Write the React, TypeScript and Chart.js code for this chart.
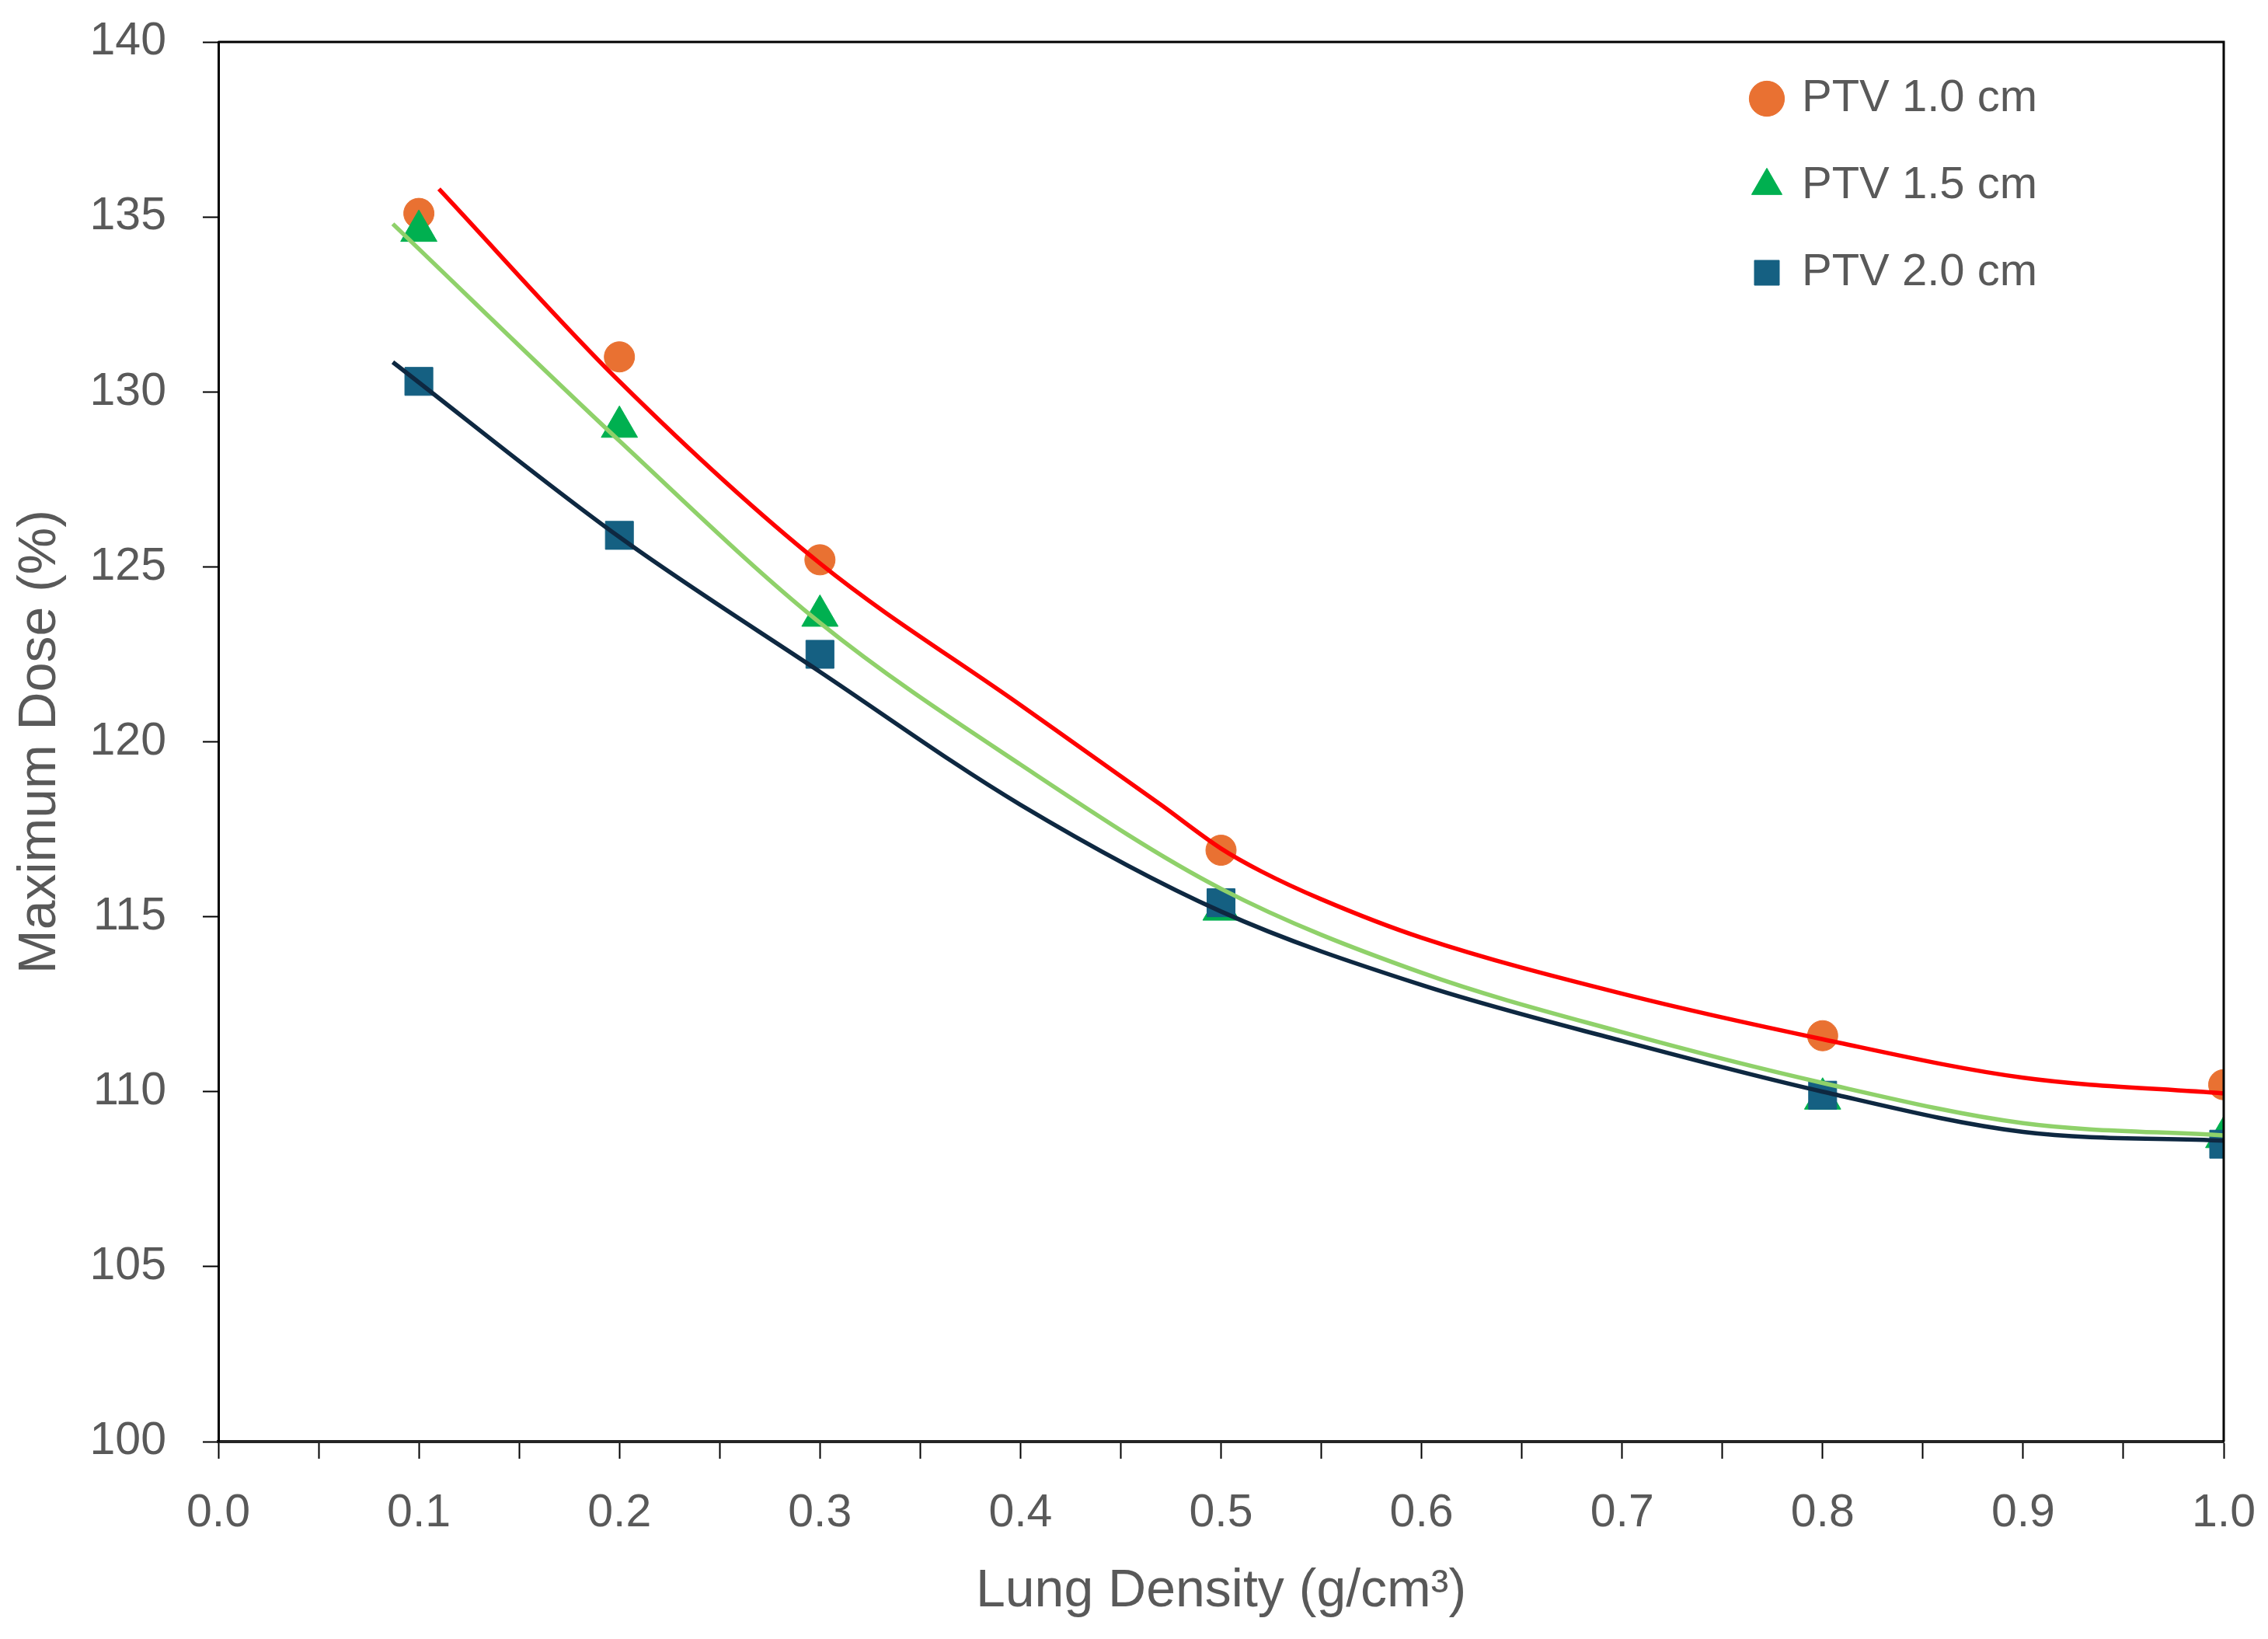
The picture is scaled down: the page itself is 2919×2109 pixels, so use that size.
import { useEffect, useRef } from "react"
import { Chart, registerables } from "chart.js"

Chart.register(...registerables)

// measured points (lung density, max dose %)
const densities = [0.1, 0.2, 0.3, 0.5, 0.8, 1.0]
const ptv10 = [135.1, 131.0, 125.2, 116.9, 111.6, 110.2]
const ptv15 = [134.6, 129.0, 123.6, 115.2, 109.8, 108.7]
const ptv20 = [130.3, 125.9, 122.5, 115.4, 109.9, 108.5]

// trend curves
const trend10X = [0.11, 0.2, 0.3, 0.4, 0.47, 0.5, 0.52, 0.55, 0.6, 0.7, 0.8, 0.9, 1.0]
const trend10Y = [135.8, 130.3, 125.1, 121.05, 118.2, 116.95, 116.3, 115.5, 114.4, 112.8, 111.5, 110.4, 109.95]
const trend15X = [0.087, 0.2, 0.3, 0.4, 0.5, 0.6, 0.7, 0.8, 0.9, 1.0]
const trend15Y = [134.8, 128.6, 123.4, 119.35, 115.8, 113.4, 111.7, 110.25, 109.1, 108.75]
const trend20X = [0.087, 0.2, 0.3, 0.4, 0.5, 0.6, 0.7, 0.8, 0.9, 1.0]
const trend20Y = [130.85, 125.85, 122.0, 118.2, 115.15, 113.05, 111.45, 110.0, 108.85, 108.6]

const seriesLabels = ["PTV 1.0 cm", "PTV 1.5 cm", "PTV 2.0 cm"]
const yTicks = [100, 105, 110, 115, 120, 125, 130, 135, 140]

const toXY = (xs: number[], ys: number[]) => xs.map((x, i) => ({ x, y: ys[i] }))

const TEXT = "#595959"
const FONT = "'Liberation Sans', Arial, sans-serif"

// top + right frame of the plot box
const frame = {
  id: "frame",
  afterDatasetsDraw(chart: any) {
    const { ctx, chartArea: a } = chart
    ctx.save()
    ctx.strokeStyle = "#000"
    ctx.lineWidth = 3
    ctx.beginPath()
    ctx.moveTo(a.left, a.top)
    ctx.lineTo(a.right, a.top)
    ctx.lineTo(a.right, a.bottom)
    ctx.stroke()
    ctx.restore()
  },
}

// move the legend box to the top-right corner inside the plot
const legendSpot = {
  id: "legendSpot",
  afterLayout(chart: any) {
    const lg = chart.legend
    if (!lg) return
    lg.left = 2204
    lg.top = 44
  },
}

export default function App() {
  const canvasRef = useRef<HTMLCanvasElement>(null)
  const chartRef = useRef<Chart | null>(null)

  useEffect(() => {
    document.body.style.margin = "0"
    if (!canvasRef.current) return
    if (chartRef.current) chartRef.current.destroy()

    const ctx = canvasRef.current.getContext("2d")
    if (!ctx) return

    chartRef.current = new Chart(ctx, {
      type: "scatter",
      data: {
        datasets: [
          {
            label: seriesLabels[0],
            data: toXY(densities, ptv10),
            pointStyle: "circle",
            pointRadius: 19.5,
            backgroundColor: "#E97132",
            borderColor: "#E97132",
            borderWidth: 1,
            order: 3,
          },
          {
            label: seriesLabels[1],
            data: toXY(densities, ptv15),
            pointStyle: "triangle",
            pointRadius: 27,
            backgroundColor: "#00B050",
            borderColor: "#00B050",
            borderWidth: 1,
            order: 2,
          },
          {
            label: seriesLabels[2],
            data: toXY(densities, ptv20),
            pointStyle: "rect",
            pointRadius: 25.5,
            backgroundColor: "#156082",
            borderColor: "#156082",
            borderWidth: 1,
            order: 1,
          },
          {
            label: "trend10",
            data: toXY(trend10X, trend10Y),
            showLine: true,
            pointRadius: 0,
            borderColor: "#FF0000",
            borderWidth: 5.5,
            cubicInterpolationMode: "monotone",
            order: 0,
          },
          {
            label: "trend15",
            data: toXY(trend15X, trend15Y),
            showLine: true,
            pointRadius: 0,
            borderColor: "#8FD16A",
            borderWidth: 5.5,
            cubicInterpolationMode: "monotone",
            order: 0,
          },
          {
            label: "trend20",
            data: toXY(trend20X, trend20Y),
            showLine: true,
            pointRadius: 0,
            borderColor: "#0E2841",
            borderWidth: 5.5,
            cubicInterpolationMode: "monotone",
            order: 0,
          },
        ],
      },
      options: {
        responsive: true,
        maintainAspectRatio: false,
        animation: false,
        layout: { padding: { top: 54, right: 57, left: 0, bottom: 0 } },
        font: { family: FONT },
        scales: {
          x: {
            type: "linear",
            min: 0,
            max: 1,
            afterFit: (scale: any) => {
              scale.height = 254
              scale.paddingLeft = 0
              scale.paddingRight = 0
            },
            ticks: {
              stepSize: 0.05,
              autoSkip: false,
              maxRotation: 0,
              padding: 35,
              color: TEXT,
              font: { family: FONT, size: 59 },
              callback: (v: any, i: number) => (i % 2 === 0 ? Number(v).toFixed(1) : ""),
            },
            grid: {
              drawOnChartArea: false,
              drawTicks: true,
              tickLength: 22,
              tickWidth: 2,
              tickColor: "#000",
            },
            border: { color: "#262626", width: 4 },
            title: {
              display: true,
              text: "Lung Density (g/cm³)",
              color: TEXT,
              font: { family: FONT, size: 68 },
              padding: { top: 0, bottom: 20 },
            },
          },
          y: {
            type: "linear",
            min: yTicks[0],
            max: yTicks[yTicks.length - 1],
            afterFit: (scale: any) => {
              scale.width = 281
              scale.paddingTop = 0
              scale.paddingBottom = 0
            },
            afterBuildTicks: (scale: any) => {
              scale.ticks = yTicks.map((v) => ({ value: v }))
            },
            ticks: {
              padding: 47,
              color: TEXT,
              font: { family: FONT, size: 59 },
              callback: (v: any) => String(v),
            },
            grid: {
              drawOnChartArea: false,
              drawTicks: true,
              tickLength: 20,
              tickWidth: 2,
              tickColor: "#000",
            },
            border: { color: "#000", width: 3 },
            title: {
              display: true,
              text: "Maximum Dose (%)",
              color: TEXT,
              font: { family: FONT, size: 68 },
              padding: { top: 11, bottom: 0 },
            },
          },
        },
        plugins: {
          tooltip: { enabled: false },
          legend: {
            position: "chartArea",
            align: "start",
            labels: {
              usePointStyle: true,
              boxHeight: 32,
              boxWidth: 32,
              padding: 54,
              color: TEXT,
              font: { family: FONT, size: 58 },
              filter: (item: any) => item.datasetIndex < 3,
              sort: (a: any, b: any) => a.datasetIndex - b.datasetIndex,
            },
          },
        },
      },
      plugins: [frame, legendSpot],
    } as any)

    return () => {
      if (chartRef.current) {
        chartRef.current.destroy()
        chartRef.current = null
      }
    }
  }, [])

  return (
    <div style={{ position: "relative", width: "2919px", height: "2109px" }}>
      <canvas ref={canvasRef} />
    </div>
  )
}
